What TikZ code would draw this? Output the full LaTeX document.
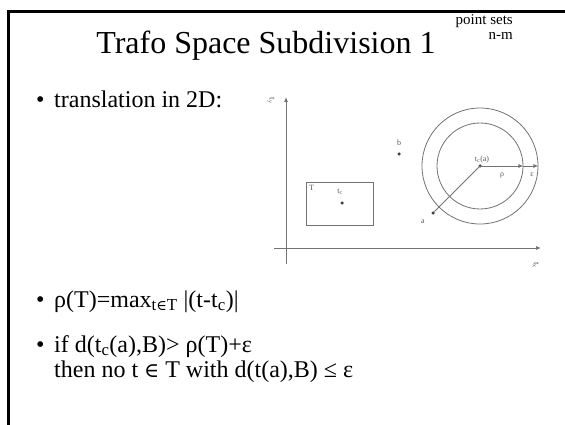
\documentclass[tikz,border=0pt]{standalone}
\usepackage{fontspec}
\setmainfont{Liberation Serif}
\newfontfamily\symf[Scale=0.85]{DejaVu Serif}
\usetikzlibrary{arrows.meta}
\begin{document}
\begin{tikzpicture}[x=1pt,y=-1pt,
  frame/.style={line width=3pt},
  txt/.style={anchor=base west, inner sep=0pt, font=\fontsize{24}{28}\selectfont},
  fig/.style={draw=black!55, line width=0.8pt},
  tiny/.style={inner sep=0pt, text=black!65, font=\fontsize{8}{9}\selectfont},
  dot/.style={circle, fill=black!75, inner sep=0pt, minimum size=3.5pt},
  arr/.style={-{Latex[length=5pt,width=4pt]}}]
\useasboundingbox (0,0) rectangle (565,425);
% frame
\coordinate (fbl) at (8.5,425);
\coordinate (ftl) at (8.5,11.5);
\coordinate (ftr) at (565,11.5);
\draw[frame] (fbl) -- (ftl) -- (ftr);
% title
\node[anchor=base, inner sep=0pt, font=\fontsize{32}{38}\selectfont] (title) at (266,54) {Trafo Space Subdivision 1};
\node[anchor=base east, inner sep=0pt, font=\fontsize{15}{18}\selectfont] (ps) at (513,25) {point sets};
\node[anchor=base east, inner sep=0pt, font=\fontsize{15}{18}\selectfont] (nm) at (513,40) {n-m};
% bullets
\node[txt] (b1) at (36,108) {•};
\node[txt] (t1) at (54,108) {translation in 2D:};
\node[txt] (b2) at (36,307) {•};
\node[txt] (t2) at (54,307) {ρ(T)=max\textsubscript{t{\symf ∈}T} |(t-t\textsubscript{c})|};
\node[txt] (b3) at (36,352) {•};
\node[txt] (t3) at (54,352) {if d(t\textsubscript{c}(a),B)> ρ(T)+ε};
\node[txt] (t4) at (54,377) {then no t {\symf ∈} T with d(t(a),B) ≤ ε};
% figure axes
\coordinate (yb) at (286,264);
\coordinate (yt) at (286,97);
\coordinate (xl) at (274,248);
\coordinate (xr) at (541,248);
\draw[fig,arr] (yb) -- (yt);
\draw[fig,arr] (xl) -- (xr);
\node[tiny, rotate=-90, font=\fontsize{9}{10}\selectfont] (ylab) at (271,101) {t\textsubscript{y}};
\node[tiny, rotate=-90, font=\fontsize{9}{10}\selectfont] (xlab) at (536,265) {t\textsubscript{x}};
% rectangle T
\node[fig, draw, rectangle, minimum width=67pt, minimum height=43pt, anchor=north west, inner sep=0pt] (T) at (306,182) {};
\node[tiny, anchor=north west] (Tl) at ([shift={(3pt,-3pt)}]T.north west) {T};
\node[tiny] (tcl) at (340,192) {t\textsubscript{c}};
\node[dot] (tc) at (342,203) {};
% point b
\node[tiny] (bl) at (399,143) {b};
\node[dot] (b) at (399,154) {};
% circles
\coordinate (cc) at (480,166);
\node[fig, circle, draw, minimum size=86pt, inner sep=0pt] (inner) at (cc) {};
\node[fig, circle, draw, minimum size=116pt, inner sep=0pt] (outer) at (cc) {};
\node[dot] (c) at (cc) {};
\node[tiny, anchor=south] (cl) at ([shift={(2pt,3pt)}]cc) {t\textsubscript{c}(a)};
\draw[fig,arr] (c.center) -- (inner.east);
\draw[fig,arr] (inner.east) -- (outer.east);
\node[tiny] (rho) at (502,175) {ρ};
\node[tiny] (eps) at (532,175) {ε};
% point a
\node[dot] (a) at (433,213) {};
\node[tiny] (al) at (423,222) {a};
\draw[fig] (c.center) -- (a);
\end{tikzpicture}
\end{document}
